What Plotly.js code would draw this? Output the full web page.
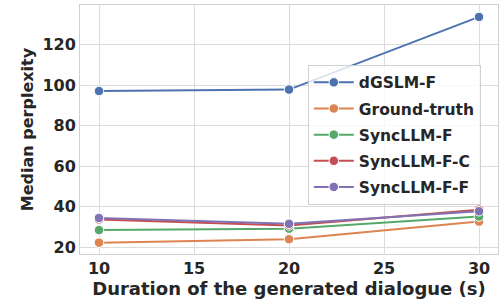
<!DOCTYPE html>
<html><head><meta charset="utf-8">
<script src="https://cdn.plot.ly/plotly-3.0.1.min.js"></script>
<style>html,body{margin:0;padding:0;background:#fff}</style>
</head><body>
<div id="chart" style="width:501px;height:305px"></div>
<script>
const durations = [10, 20, 30];
const seriesNames = ["dGSLM-F", "Ground-truth", "SyncLLM-F", "SyncLLM-F-C", "SyncLLM-F-F"];
const dgslmF = [97.2, 97.9, 133.8];
const groundTruth = [22.3, 24.0, 32.7];
const syncF = [28.5, 29.2, 35.2];
const syncFC = [33.8, 30.8, 38.6];
const syncFF = [34.5, 31.6, 37.8];
const colors = ["#4c72b0", "#dd8452", "#55a868", "#c44e52", "#8172b3"];
const allValues = [dgslmF, groundTruth, syncF, syncFC, syncFF];

const font = "DejaVu Sans, sans-serif";
const traces = allValues.map((v, i) => ({
  x: durations, y: v, name: seriesNames[i], type: "scatter", mode: "lines+markers",
  legendgroup: "g" + i,
  line: {color: colors[i], width: 2},
  marker: {color: colors[i], size: 9.5, line: {color: "#fff", width: 1}}
}));
const layout = {
  width: 501, height: 305,
  margin: {l: 80, r: 3, t: 5, b: 51},
  paper_bgcolor: "#fff", plot_bgcolor: "#fff",
  font: {family: font, color: "#262626"},
  xaxis: {
    range: [9, 31], tickvals: [10, 15, 20, 25, 30], ticktext: ["10","15","20","25","30"],
    showgrid: true, gridcolor: "#dcdcdc", gridwidth: 1, zeroline: false,
    showline: true, linecolor: "#d0d0d0", mirror: true, ticks: "",
    tickfont: {family: font, size: 16, weight: "bold", color: "#262626"},
    title: {text: "Duration of the generated dialogue (s)", font: {family: font, size: 18, weight: "bold", color: "#262626"}, standoff: 2}
  },
  yaxis: {
    range: [16.7, 139.7], tickvals: [20, 40, 60, 80, 100, 120],
    showgrid: true, gridcolor: "#dcdcdc", gridwidth: 1, zeroline: false,
    showline: true, linecolor: "#d0d0d0", mirror: true, ticks: "",
    tickfont: {family: font, size: 16, weight: "bold", color: "#262626"},
    title: {text: "Median perplexity", font: {family: font, size: 16, weight: "bold", color: "#262626"}, standoff: 4}
  },
  legend: {
    x: 0.545, y: 0.76, xanchor: "left", yanchor: "top",
    bgcolor: "rgba(255,255,255,0.8)", bordercolor: "#d0d0d0", borderwidth: 1,
    font: {family: font, size: 15.5, weight: "bold", color: "#262626"},
    tracegroupgap: 3, itemwidth: 40
  },
  showlegend: true
};
Plotly.newPlot("chart", traces, layout, {displayModeBar: false, staticPlot: true});
</script>
</body></html>
